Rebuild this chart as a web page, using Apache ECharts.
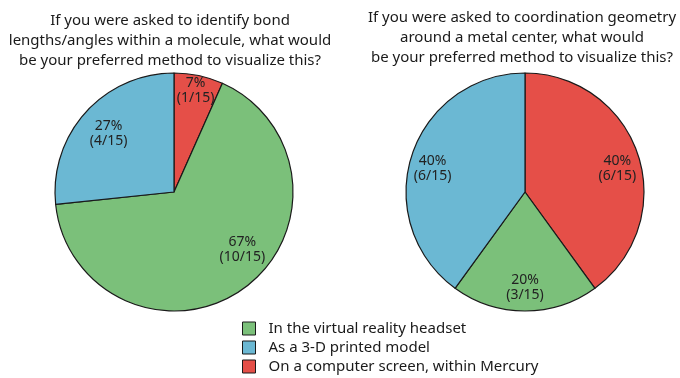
<!DOCTYPE html>
<html>
<head>
<meta charset="utf-8">
<script src="https://cdn.jsdelivr.net/npm/echarts@6/dist/echarts.min.js"></script>
<style>
html,body{margin:0;padding:0;background:#fff;}
#c{width:680px;height:378px;}
</style>
</head>
<body>
<div id="c"></div>
<script>
// ---- data ----
var categories = ['On a computer screen, within Mercury', 'In the virtual reality headset', 'As a 3-D printed model'];
var legendOrder = ['In the virtual reality headset', 'As a 3-D printed model', 'On a computer screen, within Mercury'];
var bondCounts = [1, 10, 4];      // out of 15
var geometryCounts = [6, 3, 6];   // out of 15
var totalRespondents = 15;
var titleBond = 'If you were asked to identify bond\nlengths/angles within a molecule, what would\nbe your preferred method to visualize this?';
var titleGeometry = 'If you were asked to coordination geometry\naround a metal center, what would\nbe your preferred method to visualize this?';

// ---- style ----
var colors = {
  'On a computer screen, within Mercury': '#e54f48',
  'In the virtual reality headset': '#7bc07a',
  'As a 3-D printed model': '#6bb8d3'
};
var FONT = 'Noto Sans';
var W = 680, H = 378;
var R = 119;
var centers = [[174, 192], [525, 192]];
// label placement: radial ratio and angle tweak (deg) for each slice
var labelPlace = [
  [[0.87, 0], [0.75, -14], [0.74, 0]],
  [[0.8, 4], [0.8, 0], [0.8, -4]]
];

function buildData(counts) {
  return categories.map(function (c, i) {
    return { name: c, value: counts[i], itemStyle: { color: colors[c] } };
  });
}

function labelLayoutFor(si, counts) {
  var total = counts.reduce(function (a, b) { return a + b; }, 0);
  return function (p) {
    var before = 0;
    for (var i = 0; i < p.dataIndex; i++) before += counts[i];
    var mid = (before + counts[p.dataIndex] / 2) / total * 360 + labelPlace[si][p.dataIndex][1];
    var rad = mid * Math.PI / 180;
    var rr = R * labelPlace[si][p.dataIndex][0];
    return {
      x: centers[si][0] + Math.sin(rad) * rr,
      y: centers[si][1] - Math.cos(rad) * rr,
      align: 'center',
      verticalAlign: 'middle'
    };
  };
}

function pieSeries(si, counts) {
  return {
    type: 'pie',
    center: centers[si],
    radius: R,
    startAngle: 90,
    clockwise: true,
    animation: false,
    silent: true,
    data: buildData(counts),
    itemStyle: { borderColor: '#1a1a1a', borderWidth: 1.2 },
    label: {
      show: true,
      position: 'inside',
      color: '#222',
      fontFamily: FONT,
      fontSize: 14,
      lineHeight: 15,
      formatter: function (p) {
        return Math.round(p.value / totalRespondents * 100) + '%\n(' + p.value + '/' + totalRespondents + ')';
      }
    },
    labelLine: { show: false },
    labelLayout: labelLayoutFor(si, counts),
    emphasis: { disabled: true }
  };
}

var chart = echarts.init(document.getElementById('c'), null, { renderer: 'canvas', width: W, height: H });
chart.setOption({
  backgroundColor: '#fff',
  animation: false,
  title: [
    { text: titleBond, left: 165, top: 6, textAlign: 'center',
      textStyle: { fontFamily: FONT, fontSize: 15, fontWeight: 'normal', color: '#1a1a1a', lineHeight: 20, align: 'center' } },
    { text: titleGeometry, left: 517, top: 3, textAlign: 'center',
      textStyle: { fontFamily: FONT, fontSize: 15, fontWeight: 'normal', color: '#1a1a1a', lineHeight: 20, align: 'center' } }
  ],
  legend: {
    orient: 'vertical',
    left: 242,
    top: 321,
    padding: 0,
    height: 60,
    data: legendOrder,
    icon: 'rect',
    itemWidth: 13,
    itemHeight: 13,
    itemGap: 4,
    selectedMode: false,
    itemStyle: { borderColor: '#1a1a1a', borderWidth: 1 },
    textStyle: { fontFamily: FONT, fontSize: 15, color: '#1a1a1a', padding: [0, 0, 0, 8] }
  },
  series: [pieSeries(0, bondCounts), pieSeries(1, geometryCounts)]
});
</script>
</body>
</html>
